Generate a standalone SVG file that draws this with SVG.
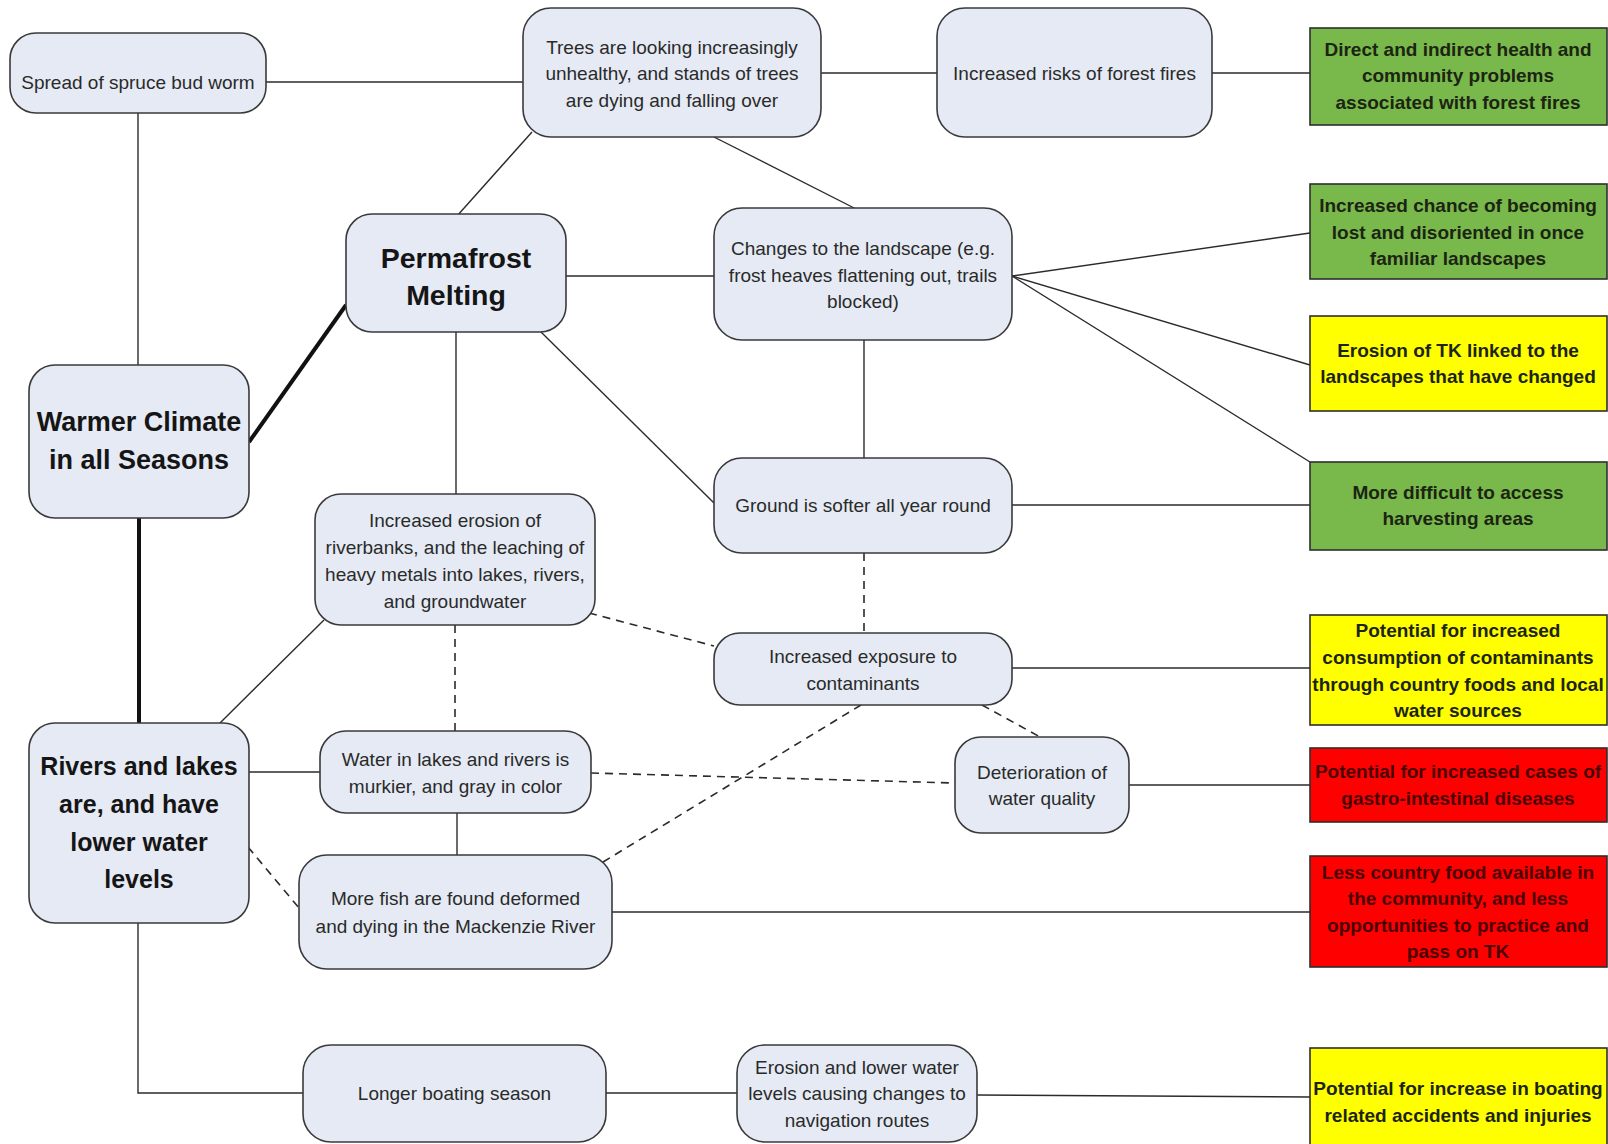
<svg xmlns="http://www.w3.org/2000/svg" width="1608" height="1144" viewBox="0 0 1608 1144">
<style>
.n{fill:#E5EAF4;stroke:#3a3a3a;stroke-width:1.6}
.g{fill:#79B84A;stroke:#2e2e2e;stroke-width:1.6}
.y{fill:#FFFF00;stroke:#2e2e2e;stroke-width:1.6}
.r{fill:#FF0000;stroke:#2e2e2e;stroke-width:1.6}
text{font-family:"Liberation Sans",Arial,sans-serif;text-anchor:middle}
.t{font-size:19px;fill:#2a2a2a}
.b{font-size:19px;font-weight:bold;fill:#1c2414}
.br{font-size:19px;font-weight:bold;fill:#4a0000}
.h{font-size:28.5px;font-weight:bold;fill:#151515}
.hw{font-size:27px;font-weight:bold;fill:#151515}
.hr{font-size:25px;font-weight:bold;fill:#151515}
.c{stroke:#2b2b2b;stroke-width:1.4;fill:none}
.k{stroke:#111;stroke-width:4;fill:none}
.d{stroke:#2b2b2b;stroke-width:1.6;fill:none;stroke-dasharray:8 6}
</style>
<rect width="1608" height="1144" fill="#ffffff"/>
<g id="connectors">
<path class="c" d="M266 82 H523"/>
<path class="c" d="M138 113 V365"/>
<path class="c" d="M821 73 H937"/>
<path class="c" d="M1212 73 H1310"/>
<path class="c" d="M532 132 L457 216"/>
<path class="c" d="M714 137 L862 212"/>
<path class="c" d="M566 276 H714"/>
<path class="k" d="M249 442 L346 305"/>
<path class="c" d="M456 332 V498"/>
<path class="c" d="M541 332 L714 503"/>
<path class="c" d="M864 340 V458"/>
<path class="c" d="M1012 276 L1310 233"/>
<path class="c" d="M1012 276 L1310 365"/>
<path class="c" d="M1012 276 L1310 462"/>
<path class="c" d="M1012 505 H1310"/>
<path class="d" d="M864 553 V633"/>
<path class="d" d="M589 613 L714 646"/>
<path class="c" d="M1012 668 H1310"/>
<path class="d" d="M982 705 L1040 737"/>
<path class="d" d="M861 705 L603 862"/>
<path class="k" d="M139 518 V723"/>
<path class="c" d="M324 620 L220 723"/>
<path class="d" d="M455 625 V731"/>
<path class="c" d="M249 772 H320"/>
<path class="d" d="M591 773 L955 783"/>
<path class="c" d="M457 813 V855"/>
<path class="d" d="M248 847 L299 908"/>
<path class="c" d="M1129 785 H1310"/>
<path class="c" d="M612 912 H1310"/>
<path class="c" d="M138 923 V1093 H303"/>
<path class="c" d="M606 1093 H737"/>
<path class="c" d="M977 1095 L1310 1097"/>
</g>
<g id="spruce"><rect class="n" x="10" y="33" width="256" height="80" rx="26"/>
<text class="t" x="138" y="89">Spread of spruce bud worm</text></g>
<g id="trees"><rect class="n" x="523" y="8" width="298" height="129" rx="28"/>
<text class="t" x="672" y="54">Trees are looking increasingly</text>
<text class="t" x="672" y="80">unhealthy, and stands of trees</text>
<text class="t" x="672" y="107">are dying and falling over</text></g>
<g id="forest"><rect class="n" x="937" y="8" width="275" height="129" rx="28"/>
<text class="t" x="1074.5" y="80">Increased risks of forest fires</text></g>
<g id="green1"><rect class="g" x="1310" y="28" width="297" height="97"/>
<text class="b" x="1458" y="56">Direct and indirect health and</text>
<text class="b" x="1458" y="82">community problems</text>
<text class="b" x="1458" y="109">associated with forest fires</text></g>
<g id="permafrost"><rect class="n" x="346" y="214" width="220" height="118" rx="26"/>
<text class="h" x="456" y="268">Permafrost</text>
<text class="h" x="456" y="305">Melting</text></g>
<g id="changes"><rect class="n" x="714" y="208" width="298" height="132" rx="28"/>
<text class="t" x="863" y="255">Changes to the landscape (e.g.</text>
<text class="t" x="863" y="282">frost heaves flattening out, trails</text>
<text class="t" x="863" y="308">blocked)</text></g>
<g id="green2"><rect class="g" x="1310" y="184" width="297" height="95"/>
<text class="b" x="1458" y="212">Increased chance of becoming</text>
<text class="b" x="1458" y="239">lost and disoriented in once</text>
<text class="b" x="1458" y="265">familiar landscapes</text></g>
<g id="yellow1"><rect class="y" x="1310" y="316" width="297" height="95"/>
<text class="b" x="1458" y="357">Erosion of TK linked to the</text>
<text class="b" x="1458" y="383">landscapes that have changed</text></g>
<g id="warmer"><rect class="n" x="29" y="365" width="220" height="153" rx="26"/>
<text class="hw" x="139" y="431">Warmer Climate</text>
<text class="hw" x="139" y="469">in all Seasons</text></g>
<g id="ground"><rect class="n" x="714" y="458" width="298" height="95" rx="28"/>
<text class="t" x="863" y="512">Ground is softer all year round</text></g>
<g id="green3"><rect class="g" x="1310" y="462" width="297" height="88"/>
<text class="b" x="1458" y="499">More difficult to access</text>
<text class="b" x="1458" y="525">harvesting areas</text></g>
<g id="erosion"><rect class="n" x="315" y="494" width="280" height="131" rx="26"/>
<text class="t" x="455" y="527">Increased erosion of</text>
<text class="t" x="455" y="554">riverbanks, and the leaching of</text>
<text class="t" x="455" y="581">heavy metals into lakes, rivers,</text>
<text class="t" x="455" y="608">and groundwater</text></g>
<g id="contaminants"><rect class="n" x="714" y="633" width="298" height="72" rx="26"/>
<text class="t" x="863" y="663">Increased exposure to</text>
<text class="t" x="863" y="690">contaminants</text></g>
<g id="yellow2"><rect class="y" x="1310" y="615" width="297" height="110"/>
<text class="b" x="1458" y="637">Potential for increased</text>
<text class="b" x="1458" y="664">consumption of contaminants</text>
<text class="b" x="1458" y="691">through country foods and local</text>
<text class="b" x="1458" y="717">water sources</text></g>
<g id="rivers"><rect class="n" x="29" y="723" width="220" height="200" rx="26"/>
<text class="hr" x="139" y="775">Rivers and lakes</text>
<text class="hr" x="139" y="813">are, and have</text>
<text class="hr" x="139" y="851">lower water</text>
<text class="hr" x="139" y="888">levels</text></g>
<g id="water"><rect class="n" x="320" y="731" width="271" height="82" rx="26"/>
<text class="t" x="455.5" y="766">Water in lakes and rivers is</text>
<text class="t" x="455.5" y="793">murkier, and gray in color</text></g>
<g id="deterioration"><rect class="n" x="955" y="737" width="174" height="96" rx="26"/>
<text class="t" x="1042" y="779">Deterioration of</text>
<text class="t" x="1042" y="805">water quality</text></g>
<g id="red1"><rect class="r" x="1310" y="748" width="297" height="74"/>
<text class="br" x="1458" y="778">Potential for increased cases of</text>
<text class="br" x="1458" y="805">gastro-intestinal diseases</text></g>
<g id="fish"><rect class="n" x="299" y="855" width="313" height="114" rx="28"/>
<text class="t" x="455.5" y="905">More fish are found deformed</text>
<text class="t" x="455.5" y="933">and dying in the Mackenzie River</text></g>
<g id="red2"><rect class="r" x="1310" y="856" width="297" height="111"/>
<text class="br" x="1458" y="879">Less country food available in</text>
<text class="br" x="1458" y="905">the community, and less</text>
<text class="br" x="1458" y="932">opportunities to practice and</text>
<text class="br" x="1458" y="958">pass on TK</text></g>
<g id="boating"><rect class="n" x="303" y="1045" width="303" height="97" rx="28"/>
<text class="t" x="454.5" y="1100">Longer boating season</text></g>
<g id="erosionlower"><rect class="n" x="737" y="1045" width="240" height="97" rx="28"/>
<text class="t" x="857" y="1074">Erosion and lower water</text>
<text class="t" x="857" y="1100">levels causing changes to</text>
<text class="t" x="857" y="1127">navigation routes</text></g>
<g id="yellow3"><rect class="y" x="1310" y="1048" width="297" height="120"/>
<text class="b" x="1458" y="1095">Potential for increase in boating</text>
<text class="b" x="1458" y="1122">related accidents and injuries</text></g>
</svg>
